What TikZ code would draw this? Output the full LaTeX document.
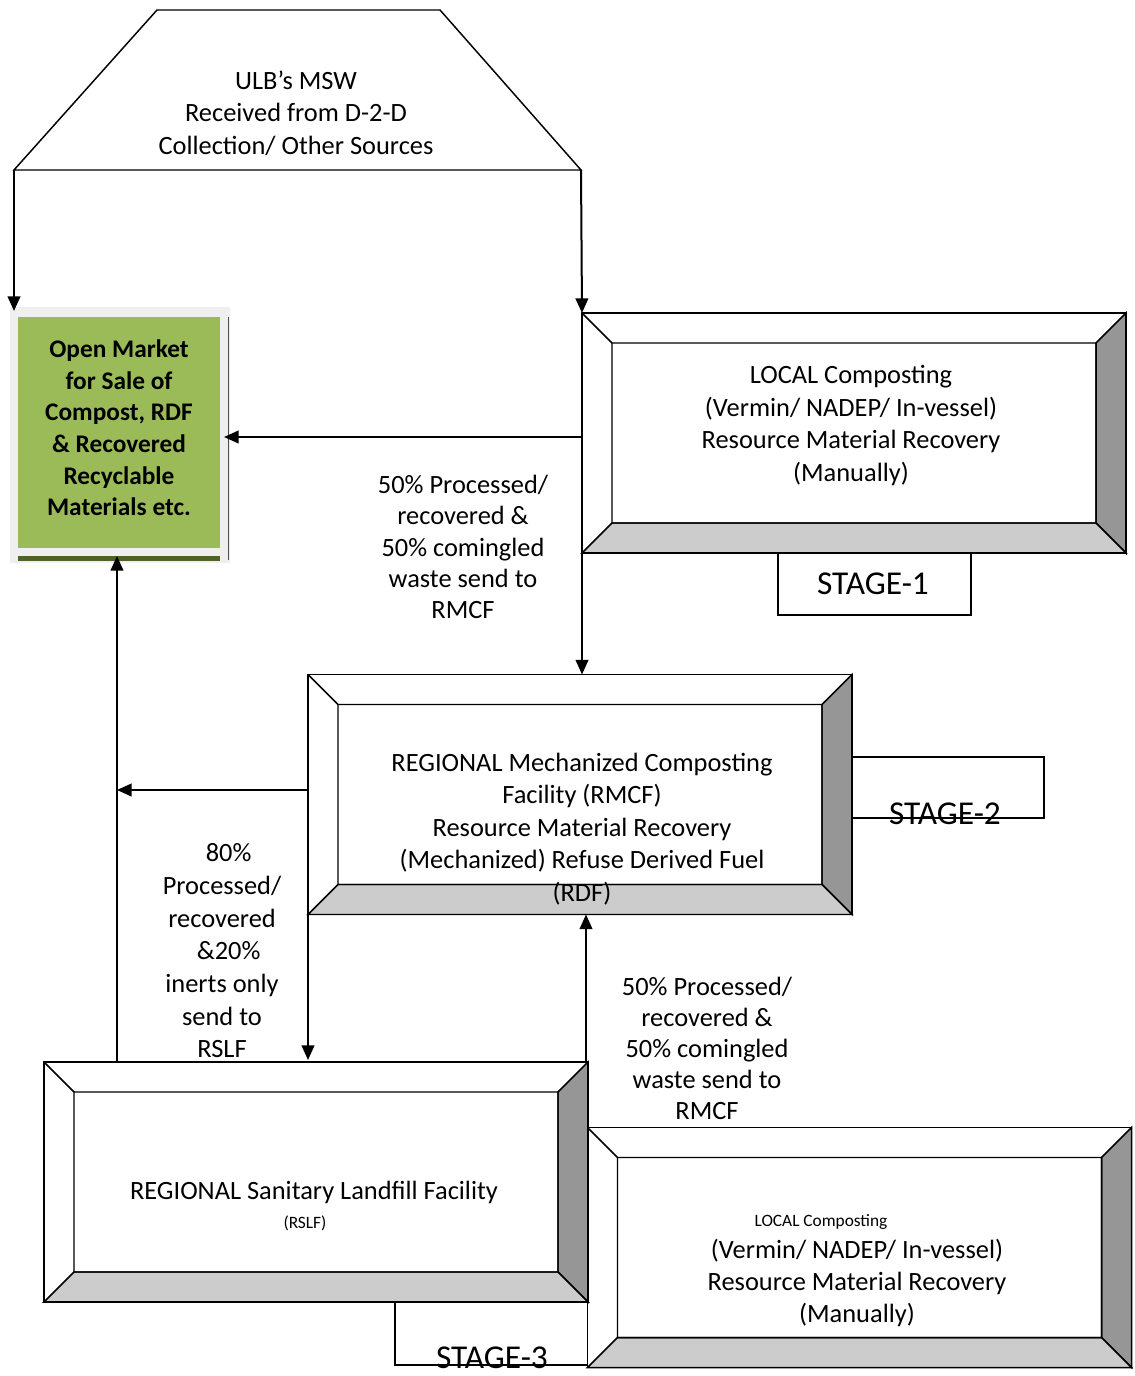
\documentclass[tikz,border=0pt]{standalone}
\usepackage{fontspec}
\setmainfont{Carlito}
\usetikzlibrary{calc,arrows.meta}
\definecolor{mkgreen}{HTML}{9BBB59}
\definecolor{mkdark}{HTML}{4F6228}
\definecolor{mkframe}{HTML}{EFEFEF}
\definecolor{bevdark}{HTML}{969696}
\definecolor{bevlight}{HTML}{CCCCCC}
\newcommand\bevelbox[1]{%
  \coordinate (#1-a) at ($(#1.north west)+(30,30)$);
  \coordinate (#1-b) at ($(#1.north east)+(-30,30)$);
  \coordinate (#1-c) at ($(#1.south east)+(-30,-30)$);
  \coordinate (#1-d) at ($(#1.south west)+(30,-30)$);
  \filldraw[fill=bevdark, bevline] (#1.north east) -- (#1-b) -- (#1-c) -- (#1.south east) -- cycle;
  \filldraw[fill=bevlight, bevline] (#1.south west) -- (#1-d) -- (#1-c) -- (#1.south east) -- cycle;
  \draw[bevline] (#1.north west) -- (#1-a) (#1-a) -- (#1-b) -- (#1-c) -- (#1-d) -- cycle;
  \draw[bevline] (#1.north west) rectangle (#1.south east);
}
\begin{document}
\begin{tikzpicture}[x=0.75pt,y=-0.75pt,
  bevline/.style={line width=1.1pt, line join=miter},
  panel/.style={inner sep=0pt, outer sep=0pt, minimum width=408pt, minimum height=180pt},
  txt/.style={align=center, inner sep=0pt, font=\fontsize{19.8}{24.3}\selectfont},
  small/.style={align=center, inner sep=0pt, font=\fontsize{13}{15}\selectfont},
  stagetxt/.style={inner sep=0pt, font=\fontsize{25}{28}\selectfont},
  arr/.style={line width=1.5pt, -{Triangle[length=11pt,width=9.5pt]}},
  thinl/.style={line width=1pt}]
\useasboundingbox (0,0) rectangle (1134,1376);

% source trapezoid
\coordinate (tr-tl) at (157,10);
\coordinate (tr-tr) at (440,10);
\coordinate (tr-br) at (581,170);
\coordinate (tr-bl) at (14,170);
\draw[line width=1.1pt, line join=miter] (tr-bl) -- (tr-tl) -- (tr-tr) -- (tr-br) -- cycle;
\node[txt] (src) at (296,113) {ULB’s MSW\\Received from D-2-D\\Collection/ Other Sources};

% open market box
\fill[mkframe] (10,307) rectangle (230,563);
\node[fill=mkgreen, inner sep=0pt, outer sep=0pt, minimum width=151.5pt, minimum height=173.25pt] (market) at (119,432.5) {};
\fill[mkdark] (18,556) rectangle (220,561);
\draw[line width=0.6pt, black!70] (228,317) -- (228,560);
\node[align=center, inner sep=0pt, font=\fontsize{19}{23.7}\selectfont\bfseries] (mktxt) at (119,428)
  {Open Market\\for Sale of\\Compost, RDF\\\& Recovered\\Recyclable\\Materials etc.};
\coordinate (mk-top) at (14,311);
\coordinate (mk-right) at (224,437);
\coordinate (mk-bottom) at (117,556);

% panels
\node[panel] (s1) at (854,433) {};
\bevelbox{s1}
\node[txt] (s1txt) at (851,425.5) {LOCAL Composting\\(Vermin/ NADEP/ In-vessel)\\Resource Material Recovery\\(Manually)};

\node[panel] (s2) at (580,794.5) {};
\bevelbox{s2}
\node[txt] (s2txt) at (582,829) {REGIONAL Mechanized Composting\\Facility (RMCF)\\Resource Material Recovery\\(Mechanized) Refuse Derived Fuel\\(RDF)};

\node[panel] (s3) at (316,1182) {};
\bevelbox{s3}
\node[txt] (s3txt) at (314,1192) {REGIONAL Sanitary Landfill Facility};
\node[small] (s3sub) at (305,1223) {(RSLF)};

\node[panel] (s4) at (859.5,1247.5) {};
\bevelbox{s4}
\node[small] (s4a) at (821,1222) {LOCAL Composting};
\node[txt] (s4txt) at (857,1283) {(Vermin/ NADEP/ In-vessel)\\Resource Material Recovery\\(Manually)};

% stage labels
\draw[thinl] (778,553) -- (778,615) -- (971,615) -- (971,553);
\node[stagetxt] (st1) at (873,584) {STAGE-1};
\draw[thinl] (s2.east |- 0,757) -- (1044,757) -- (1044,818) -- (s2.east |- 0,818);
\node[stagetxt] (st2) at (945,814) {STAGE-2};
\draw[thinl] (395,1302) -- (395,1365) -- (588,1365);
\node[stagetxt] (st3) at (492,1358) {STAGE-3};

% connectors
\draw[arr] (tr-bl) -- (mk-top);
\draw[arr] (tr-br) -- (s1.north west);
\draw[arr] (s1.north west) -- (s1.north west |- s2.north);
\coordinate (j1) at (581,437);
\draw[arr] (j1) -- (mk-right);
\coordinate (j2) at ($(s2.west)+(0,-4.5)$);
\coordinate (j3) at ($(s3.north west)+(73,0)$);
\draw[arr] (j2) -- (j3 |- j2);
\draw[arr] (j3) -- (mk-bottom);
\draw[arr] (s2.south west) -- ($(s2.south west |- s3.north)+(0,-2)$);
\coordinate (up0) at ($(s3.north east)+(-2,0)$);
\draw[arr] (up0) -- (up0 |- s2.south);

% flow labels
\node[txt, font=\fontsize{19.8}{23.5}\selectfont] (l1) at (463,547) {50\% Processed/\\recovered \&\\50\% comingled\\waste send to\\RMCF};
\node[txt, font=\fontsize{19.8}{24.5}\selectfont] (l2) at (222,951) {\hspace*{10pt}80\%\\Processed/\\recovered\\\hspace*{10pt}\&20\%\\inerts only\\send to\\RSLF};
\node[txt, font=\fontsize{19.8}{23.1}\selectfont] (l3) at (707,1048.5) {50\% Processed/\\recovered \&\\50\% comingled\\waste send to\\RMCF};
\end{tikzpicture}
\end{document}
